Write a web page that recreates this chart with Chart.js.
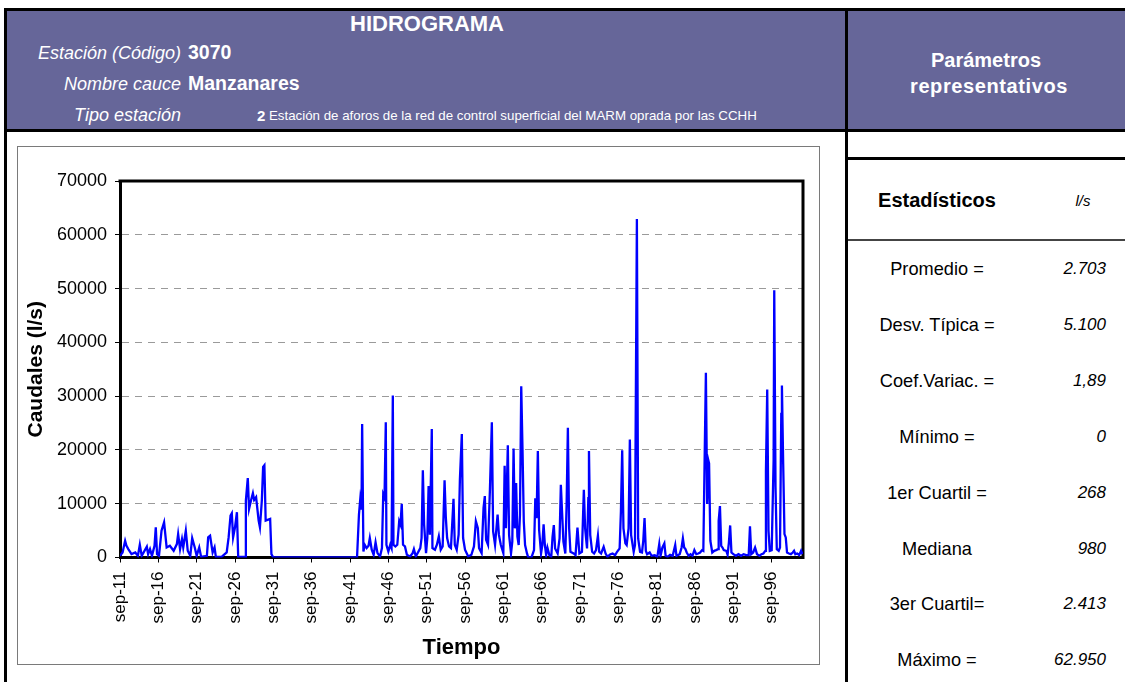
<!DOCTYPE html>
<html><head><meta charset="utf-8">
<script src="https://cdn.jsdelivr.net/npm/chart.js@4.4.1/dist/chart.umd.min.js"></script>
<style>
html,body{margin:0;padding:0}
body{width:1125px;height:682px;overflow:hidden;background:#fff;position:relative;font-family:"Liberation Sans",Arial,sans-serif}
.a{position:absolute;white-space:nowrap}
.c{transform:translate(-50%,-50%)}
.l{transform:translate(0,-50%)}
.r{transform:translate(-100%,-50%)}
.w{color:#fff}
.i{font-style:italic}
.b{font-weight:bold}
</style></head>
<body>
<!-- frames -->
<div class="a" style="left:7px;top:11px;width:838px;height:118px;background:#666699"></div>
<div class="a" style="left:848px;top:11px;width:277px;height:118px;background:#666699"></div>
<div class="a" style="left:4px;top:8px;width:1121px;height:3px;background:#000"></div>
<div class="a" style="left:4px;top:129px;width:1121px;height:3px;background:#000"></div>
<div class="a" style="left:4px;top:8px;width:3px;height:674px;background:#000"></div>
<div class="a" style="left:845px;top:8px;width:3px;height:674px;background:#000"></div>
<div class="a" style="left:848px;top:157px;width:277px;height:3px;background:#000"></div>
<div class="a" style="left:848px;top:239px;width:277px;height:2px;background:#444"></div>
<div class="a" style="left:17px;top:146px;width:803px;height:519px;border:1px solid #7a7a7a;box-sizing:border-box"></div>

<!-- header texts -->
<div class="a c w b" style="left:427px;top:24px;font-size:22px">HIDROGRAMA</div>
<div class="a r w i" style="left:181px;top:53px;font-size:18px">Estación (Código)</div>
<div class="a l w b" style="left:188px;top:52px;font-size:19.5px">3070</div>
<div class="a r w i" style="left:181px;top:84px;font-size:18px">Nombre cauce</div>
<div class="a l w b" style="left:188px;top:83px;font-size:19.5px">Manzanares</div>
<div class="a r w i" style="left:181px;top:115px;font-size:18px">Tipo estación</div>
<div class="a l w b" style="left:257px;top:115px;font-size:15px">2</div>
<div class="a l w" style="left:269px;top:115px;font-size:13.3px">Estación de aforos de la red de control superficial del MARM oprada por las CCHH</div>
<div class="a c w b" style="left:986px;top:60px;font-size:20px">Parámetros</div>
<div class="a c w b" style="left:989px;top:86px;font-size:20px;letter-spacing:0.6px">representativos</div>
<div class="a c b" style="left:937px;top:200px;font-size:20px">Estadísticos</div>
<div class="a c i" style="left:1083px;top:200px;font-size:15px">l/s</div>
<div id="stats"></div>

<canvas id="cv" class="a" width="800" height="519" style="left:20px;top:146px;width:800px;height:519px"></canvas>

<script>
// ---- data ----
const tickLabels = ['sep-11','sep-16','sep-21','sep-26','sep-31','sep-36','sep-41','sep-46','sep-51','sep-56','sep-61','sep-66','sep-71','sep-76','sep-81','sep-86','sep-91','sep-96'];
const monthsPerTick = 60;           // months between tick labels
const lastMonth = 1069;             // months since sep-1911 at end of record
// [months since sep-1911, caudal l/s]
const caudales1911_1931 = [[0,300],[4,930],[8,3100],[10,2200],[13,1560],[18,620],[24,930],[28,310],[31,2370],[34,310],[42,2000],[44,620],[47,1560],[50,310],[54,2180],[56,5600],[58,620],[61,310],[65,4980],[69,6540],[73,1870],[78,2180],[84,1250],[89,2490],[91,4360],[94,1560],[97,3430],[99,1870],[103,4980],[106,1250],[110,310],[113,3610],[117,1870],[120,310],[124,1870],[127,120],[136,310],[138,3740],[141,4050],[145,930],[148,1870],[150,120],[159,120],[167,930],[170,3740],[173,7790],[175,8220],[177,3740],[180,5610],[183,8410],[185,120],[196,120],[197,10590],[200,14770],[202,9030],[205,10590],[208,11960],[210,10720],[213,11210],[217,6850],[219,5610],[222,10590],[224,16820],[226,17130],[228,6850],[235,7160],[237,620],[240,0]];
const caudales1942_1961 = [[371,0],[374,7990],[376,10800],[378,8920],[379,24840],[381,1120],[383,2370],[386,1750],[389,2180],[391,3620],[394,1440],[397,500],[400,2810],[403,810],[407,190],[410,1750],[412,11730],[414,11110],[416,25150],[417,2370],[420,1120],[423,2370],[425,1750],[427,30140],[428,2370],[431,2060],[434,2370],[437,6740],[439,6120],[441,9980],[443,2370],[446,2060],[449,500],[454,190],[458,810],[460,1560],[463,190],[470,1750],[472,3620],[474,16220],[476,6120],[479,810],[481,3620],[483,13290],[485,4240],[488,23900],[489,1750],[493,1440],[496,2370],[499,3930],[502,1440],[505,2060],[508,14350],[510,7360],[512,3620],[515,2060],[518,1750],[522,10920],[524,2370],[527,1440],[530,4240],[532,14540],[535,22960],[537,3620],[540,1440],[545,190],[550,500],[554,2060],[557,6740],[560,5490],[562,1750],[566,810],[569,9240],[571,11420],[573,3310],[576,2370],[579,12670],[582,25150],[584,4870],[587,2370],[591,7990],[593,4240],[596,2370],[600,810]];
const caudales1961_1979 = [[602,17070],[604,5420],[607,20870],[609,4170],[612,750],[614,2930],[616,20250],[618,5420],[620,13830],[622,3860],[624,2310],[626,7910],[628,31840],[630,20060],[632,6670],[634,2310],[637,750],[639,0],[644,0],[648,1370],[650,11030],[652,7290],[654,19810],[656,5110],[659,750],[661,2310],[663,6170],[665,2310],[667,440],[669,1810],[672,440],[675,120],[677,3860],[679,6040],[681,1680],[685,750],[688,3550],[690,13520],[692,8220],[694,2930],[697,750],[699,9780],[701,24110],[703,5420],[705,1060],[710,750],[713,440],[716,5540],[719,750],[723,1060],[726,12580],[728,5420],[731,1680],[733,11030],[734,19810],[736,4170],[739,1060],[742,750],[745,1370],[748,4050],[750,1060],[753,750],[757,1990],[760,750],[763,120],[767,560],[771,750],[775,440],[778,1060],[782,1680],[784,8540],[786,19940],[788,5420],[791,2620],[793,2310],[796,5420],[798,21930],[800,4170],[804,1060],[806,2310],[809,62950],[811,3550],[814,1060]];
const caudales1979_2000 = [[817,930],[819,3110],[821,7330],[823,1240],[825,620],[829,930],[832,310],[837,430],[841,120],[844,2480],[846,310],[849,1860],[852,2610],[854,310],[857,120],[861,500],[865,310],[869,2300],[871,310],[876,620],[879,1860],[881,3540],[883,1860],[885,1550],[887,930],[890,310],[893,620],[896,310],[899,1370],[902,620],[905,750],[908,930],[911,1370],[913,1240],[915,18010],[917,34340],[919,9940],[921,18010],[922,17510],[924,3110],[927,930],[930,1240],[933,1370],[936,1550],[937,6830],[939,9560],[941,2170],[943,1860],[945,1370],[949,1240],[951,500],[953,2790],[955,5960],[957,930],[960,620],[964,310],[968,620],[972,310],[976,620],[980,430],[984,430],[986,5780],[988,620],[991,930],[994,1860],[997,620],[1001,310],[1004,620],[1007,750],[1010,1240],[1011,16150],[1013,31240],[1015,4970],[1017,1240],[1020,1370],[1023,18010],[1024,49700],[1026,13040],[1028,1550],[1031,1240],[1033,1860],[1035,26700],[1036,31980],[1038,17390],[1040,4350],[1042,3730],[1044,930],[1047,750],[1050,620],[1053,930],[1055,1240],[1057,620],[1060,750],[1063,430],[1066,1240],[1068,620]];
const statLabels = ['Promedio =','Desv. Típica =','Coef.Variac. =','Mínimo =','1er Cuartil =','Mediana','3er Cuartil=','Máximo ='];
const statValues = ['2.703','5.100','1,89','0','268','980','2.413','62.950'];

// ---- stats table ----
const st = document.getElementById('stats');
statLabels.forEach((lab, k) => {
  const y = 269 + k * 55.9;
  st.insertAdjacentHTML('beforeend',
    `<div class="a c" style="left:937px;top:${y}px;font-size:18.2px">${lab}</div>` +
    `<div class="a r i" style="left:1106px;top:${y}px;font-size:17px">${statValues[k]}</div>`);
});

// ---- chart ----
Chart.defaults.font.family = '"Liberation Sans", Arial, sans-serif';
const serie = [].concat(caudales1911_1931, caudales1942_1961, caudales1961_1979, caudales1979_2000)
  .map(([m, v]) => ({x: m, y: v}));

const frame = {
  id: 'frame',
  beforeDatasetsDraw(chart) {
    const {ctx, chartArea: a} = chart;
    ctx.save();
    ctx.strokeStyle = '#000';
    ctx.lineWidth = 3;
    ctx.beginPath();
    ctx.moveTo(a.left - 1.5, a.top);
    ctx.lineTo(a.right, a.top);
    ctx.lineTo(a.right, a.bottom + 1.5);
    ctx.stroke();
    ctx.restore();
  }
};

new Chart(document.getElementById('cv'), {
  type: 'line',
  data: {datasets: [{data: serie, borderColor: '#0000ff', borderWidth: 2.3, pointRadius: 0, tension: 0, fill: false}]},
  options: {
    animation: false, responsive: false, devicePixelRatio: 1,
    layout: {padding: {top: 35, right: 17, left: 0, bottom: 0}},
    plugins: {legend: {display: false}, tooltip: {enabled: false}},
    scales: {
      x: {
        type: 'linear', min: 0, max: lastMonth,
        afterBuildTicks: s => { s.ticks = tickLabels.map((_, i) => ({value: i * monthsPerTick})); },
        afterFit: s => { s.height = 107.5; },
        ticks: {autoSkip: false, maxRotation: 90, minRotation: 90, padding: 9, color: '#000', font: {size: 17},
          callback: v => tickLabels[Math.round(v / monthsPerTick)]},
        grid: {drawOnChartArea: false, tickLength: 5, tickColor: '#000'},
        border: {color: '#000', width: 3},
        title: {display: true, text: 'Tiempo', color: '#000', font: {size: 22, weight: 'bold'}, padding: {top: 4, bottom: 4}}
      },
      y: {
        min: 0, max: 70000,
        afterFit: s => { s.width = 100; },
        ticks: {stepSize: 10000, padding: 8, color: '#000', font: {size: 18}, callback: v => String(v)},
        grid: {color: c => (c.tick && (c.tick.value === 0 || c.tick.value === 70000)) ? 'rgba(0,0,0,0)' : '#9a9a9a',
          tickColor: '#000', tickLength: 5},
        border: {color: '#000', width: 3, dash: [7, 6]},
        title: {display: true, text: 'Caudales (l/s)', color: '#000', font: {size: 21, weight: 'bold'}, padding: {top: 4, bottom: 4}}
      }
    }
  },
  plugins: [frame]
});
</script>
</body></html>
